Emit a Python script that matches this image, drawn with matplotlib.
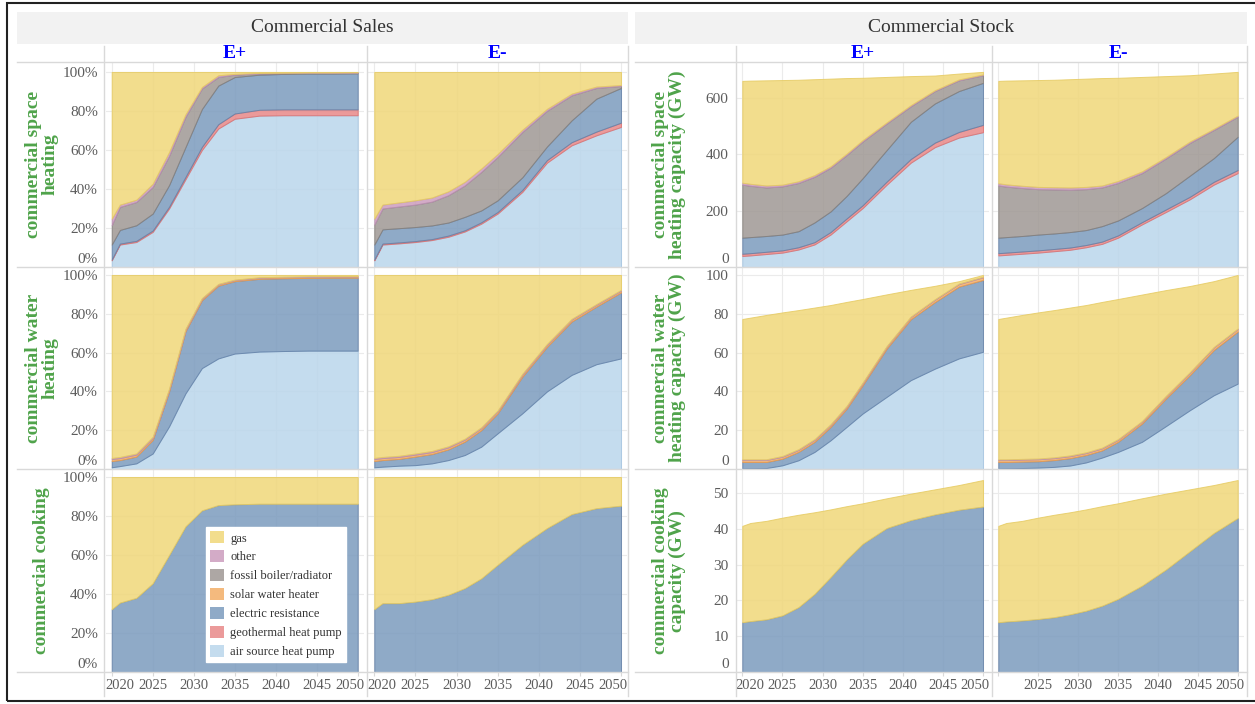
import matplotlib
matplotlib.use("Agg")
import matplotlib.pyplot as plt
from matplotlib.lines import Line2D
from matplotlib.patches import Patch, Rectangle
from matplotlib.transforms import ScaledTranslation

W, H = 1255, 704
DPI = 100

YEARS = [2020, 2021, 2023, 2025, 2027, 2029, 2031, 2033, 2035, 2038, 2041, 2044, 2047, 2050]

ORDER = [
    "air source heat pump",
    "geothermal heat pump",
    "electric resistance",
    "solar water heater",
    "fossil boiler/radiator",
    "other",
    "gas",
]
COLORS = {
    "gas": "#f0d779",
    "other": "#cc9cbe",
    "fossil boiler/radiator": "#9f9894",
    "solar water heater": "#f3ae67",
    "electric resistance": "#7b9bbe",
    "geothermal heat pump": "#e88888",
    "air source heat pump": "#bad6eb",
}
EDGES = {
    "gas": "#e6cb62",
    "other": "#b98fb0",
    "fossil boiler/radiator": "#85807c",
    "solar water heater": "#eb9c50",
    "electric resistance": "#6582a8",
    "geothermal heat pump": "#dc7272",
    "air source heat pump": "#a6c6e2",
}
ALPHA = 0.85

# ---- sales shares (%) ----
sales_space_ep = {
    "air source heat pump": [3.4, 11.5, 12.8, 18.0, 30.0, 45.0, 60.0, 71.0, 76.0, 77.6, 77.8, 77.8, 77.8, 77.8],
    "geothermal heat pump": [0.4, 0.5, 0.6, 0.7, 0.9, 1.2, 1.6, 2.2, 2.7, 3.0, 3.0, 3.0, 3.0, 3.0],
    "electric resistance": [7.7, 7.0, 8.0, 8.7, 11.1, 15.3, 19.4, 19.8, 18.7, 18.0, 18.2, 18.4, 18.4, 18.5],
    "fossil boiler/radiator": [9.9, 11.8, 11.9, 13.6, 15.0, 15.5, 10.5, 4.4, 1.2, 0.6, 0.4, 0.3, 0.3, 0.3],
    "other": [3.4, 1.2, 1.2, 1.7, 2.0, 1.3, 0.8, 0.9, 0.4, 0.3, 0.2, 0.2, 0.2, 0.2],
    "gas": [75.2, 68.0, 65.5, 57.3, 41.0, 21.7, 7.7, 1.7, 1.0, 0.5, 0.4, 0.3, 0.3, 0.2],
}
sales_space_em = {
    "air source heat pump": [3.4, 11.5, 12.1, 12.8, 13.8, 15.5, 18.2, 22.2, 27.4, 38.5, 53.5, 62.4, 67.5, 71.8],
    "geothermal heat pump": [0.4, 0.5, 0.5, 0.5, 0.5, 0.6, 0.6, 0.7, 0.8, 1.0, 1.3, 1.6, 1.9, 2.2],
    "electric resistance": [7.7, 7.3, 7.3, 7.2, 7.0, 6.7, 6.9, 6.1, 6.0, 6.5, 7.0, 11.2, 16.9, 17.8],
    "fossil boiler/radiator": [10.2, 10.7, 11.1, 11.5, 12.2, 14.0, 16.1, 19.7, 22.2, 23.2, 18.3, 12.8, 5.5, 1.0],
    "other": [3.1, 2.0, 2.1, 2.2, 2.1, 2.0, 1.9, 1.8, 1.6, 1.2, 1.0, 0.9, 0.7, 0.5],
    "gas": [75.2, 68.0, 66.9, 65.8, 64.4, 61.2, 56.3, 49.5, 42.0, 29.6, 18.9, 11.1, 7.5, 6.7],
}
sales_water_ep = {
    "air source heat pump": [0.9, 1.5, 2.9, 8.0, 22.0, 39.0, 52.0, 57.0, 59.5, 60.5, 60.8, 61.0, 61.0, 61.0],
    "electric resistance": [3.2, 3.1, 3.5, 7.0, 18.0, 32.0, 35.0, 37.5, 37.3, 37.5, 37.5, 37.5, 37.6, 37.6],
    "solar water heater": [1.0, 1.0, 1.0, 1.0, 1.0, 0.9, 0.8, 0.7, 0.6, 0.6, 0.6, 0.6, 0.6, 0.6],
    "other": [0.6, 0.6, 0.6, 0.6, 0.5, 0.4, 0.3, 0.2, 0.2, 0.2, 0.2, 0.2, 0.2, 0.2],
    "gas": [94.3, 93.8, 92.0, 83.4, 58.5, 27.7, 11.9, 4.6, 2.4, 1.2, 0.9, 0.7, 0.6, 0.6],
}
sales_water_em = {
    "air source heat pump": [0.9, 1.2, 1.7, 2.0, 2.9, 4.6, 7.2, 11.5, 18.4, 28.7, 40.0, 48.5, 54.0, 57.0],
    "electric resistance": [3.2, 3.4, 3.5, 4.4, 4.8, 5.5, 6.9, 8.5, 10.3, 18.9, 23.0, 27.5, 29.7, 34.0],
    "solar water heater": [1.0, 1.0, 1.0, 1.0, 1.0, 1.0, 1.0, 1.0, 1.0, 1.0, 1.0, 1.0, 0.9, 0.9],
    "other": [0.6, 0.6, 0.6, 0.6, 0.6, 0.6, 0.5, 0.5, 0.5, 0.5, 0.5, 0.4, 0.4, 0.4],
    "gas": [94.3, 93.8, 93.2, 92.0, 90.7, 88.3, 84.4, 78.5, 69.8, 50.9, 35.5, 22.6, 15.0, 7.7],
}
sales_cook_ep = {
    "electric resistance": [32.2, 35.6, 38.0, 45.5, 60.0, 74.7, 82.9, 85.6, 86.0, 86.3, 86.3, 86.3, 86.3, 86.3],
    "gas": [67.8, 64.4, 62.0, 54.5, 40.0, 25.3, 17.1, 14.4, 14.0, 13.7, 13.7, 13.7, 13.7, 13.7],
}
sales_cook_em = {
    "electric resistance": [32.2, 35.3, 35.3, 36.1, 37.3, 39.6, 43.0, 48.0, 55.0, 65.2, 73.8, 81.0, 84.0, 85.3],
    "gas": [67.8, 64.7, 64.7, 63.9, 62.7, 60.4, 57.0, 52.0, 45.0, 34.8, 26.2, 19.0, 16.0, 14.7],
}

# ---- stock capacity (GW) ----
stock_space_ep = {
    "air source heat pump": [39, 41, 46, 51, 62, 80, 115, 162, 209, 292, 370, 425, 459, 478],
    "geothermal heat pump": [8, 8, 8, 8, 8, 8, 9, 10, 10, 11, 13, 16, 20, 26],
    "electric resistance": [57, 57, 56, 56, 57, 70, 73, 80, 96, 112, 132, 139, 145, 149],
    "fossil boiler/radiator": [188, 182, 172, 171, 171, 162, 155, 145, 130, 94, 55, 44, 38, 27],
    "other": [7, 7, 7, 6, 6, 6, 5, 5, 5, 4, 4, 3, 3, 3],
    "gas": [361, 366, 373, 371, 360, 340, 311, 268, 221, 161, 103, 52, 21, 9],
}
stock_space_em = {
    "air source heat pump": [41, 43, 47, 51, 56, 61, 70, 82, 104, 151, 195, 240, 292, 333],
    "geothermal heat pump": [8, 8, 8, 8, 8, 8, 8, 8, 8, 8, 9, 9, 10, 11],
    "electric resistance": [55, 55, 55, 56, 55, 55, 53, 55, 53, 50, 58, 75, 84, 118],
    "fossil boiler/radiator": [185, 179, 170, 161, 156, 150, 145, 137, 133, 124, 123, 116, 100, 71],
    "other": [8, 8, 8, 8, 8, 8, 8, 7, 7, 6, 5, 5, 4, 4],
    "gas": [363, 368, 374, 379, 381, 384, 384, 381, 366, 335, 287, 235, 196, 155],
}
stock_water_ep = {
    "air source heat pump": [0.2, 0.3, 0.5, 1.9, 4.5, 8.8, 14.8, 21.7, 28.6, 37.2, 45.8, 51.7, 57.0, 60.4],
    "electric resistance": [3.4, 3.3, 3.1, 3.4, 4.3, 5.2, 6.9, 9.4, 14.6, 24.9, 31.4, 34.3, 37.0, 37.0],
    "solar water heater": [1.0, 1.0, 1.0, 1.0, 1.0, 1.0, 1.0, 1.0, 1.0, 1.0, 1.1, 1.2, 1.3, 1.4],
    "other": [0.4, 0.4, 0.4, 0.4, 0.4, 0.4, 0.4, 0.4, 0.4, 0.3, 0.3, 0.3, 0.3, 0.3],
    "gas": [72.3, 73.0, 74.4, 74.0, 71.7, 67.8, 61.4, 53.6, 43.0, 26.6, 13.7, 6.9, 1.2, 0.9],
}
stock_water_em = {
    "air source heat pump": [0.2, 0.3, 0.5, 0.7, 1.1, 1.8, 3.4, 5.9, 8.8, 14.0, 22.1, 30.3, 38.0, 44.0],
    "electric resistance": [3.4, 3.3, 3.3, 3.3, 3.5, 3.8, 3.8, 3.7, 5.2, 9.4, 14.2, 18.1, 23.3, 26.8],
    "solar water heater": [1.0, 1.0, 1.0, 1.0, 1.0, 1.0, 1.0, 1.0, 1.0, 1.0, 1.1, 1.2, 1.3, 1.3],
    "other": [0.4, 0.4, 0.4, 0.4, 0.4, 0.4, 0.4, 0.4, 0.4, 0.3, 0.3, 0.3, 0.3, 0.3],
    "gas": [72.3, 73.0, 74.2, 75.3, 75.9, 76.2, 75.9, 75.1, 72.2, 65.2, 54.5, 44.4, 33.9, 27.6],
}
stock_cook_ep = {
    "electric resistance": [13.9, 14.2, 14.7, 15.8, 18.1, 21.8, 26.5, 31.4, 35.8, 40.2, 42.4, 44.0, 45.3, 46.2],
    "gas": [26.9, 27.4, 27.5, 27.3, 25.8, 22.8, 18.9, 14.9, 11.3, 8.3, 7.4, 7.0, 6.9, 7.4],
}
stock_cook_em = {
    "electric resistance": [13.9, 14.1, 14.4, 14.8, 15.3, 16.1, 17.1, 18.5, 20.4, 24.1, 28.6, 33.7, 38.8, 43.0],
    "gas": [26.9, 27.5, 27.8, 28.3, 28.6, 28.5, 28.3, 27.8, 26.7, 24.4, 21.2, 17.3, 13.4, 10.6],
}

PANELS = [
    [sales_space_ep, sales_space_em, stock_space_ep, stock_space_em],
    [sales_water_ep, sales_water_em, stock_water_ep, stock_water_em],
    [sales_cook_ep, sales_cook_em, stock_cook_ep, stock_cook_em],
]
SALES_LABELS = ["commercial space\nheating", "commercial water\nheating", "commercial cooking"]
STOCK_LABELS = [
    "commercial space\nheating capacity (GW)",
    "commercial water\nheating capacity (GW)",
    "commercial cooking\ncapacity (GW)",
]
COL_HEADERS = ["E+", "E-", "E+", "E-"]
GROUP_TITLES = ["Commercial Sales", "Commercial Stock"]

SALES_TICKS = [0, 20, 40, 60, 80, 100]
STOCK_TICKS = [[0, 200, 400, 600], [0, 20, 40, 60, 80, 100], [0, 10, 20, 30, 40, 50]]
XTICKS = [2020, 2025, 2030, 2035, 2040, 2045, 2050]

# layout, in pixels of the 1255x704 picture
COL_DATA_PX = [(111.7, 357.7), (374.3, 621.0), (742.3, 983.0), (998.3, 1237.7)]
ROW_PX = [(62, 267), (267, 469), (470, 672)]
YTOP = [(105.1, 727), (104.1, 104.1), (103.6, 56.4)]
PAD = 6

GRID = "#ebebeb"
RULE = "#d9d9d9"
TICK_TXT = "#5c5c5c"
GREEN = "#4fa34a"

plt.rcParams["font.family"] = ["Liberation Serif", "DejaVu Serif"]


def fx(x):
    return x / W


def fy(y):
    return 1 - y / H


def nudge(label, dx, dy, fig):
    label.set_transform(
        label.get_transform() + ScaledTranslation(dx / DPI, dy / DPI, fig.dpi_scale_trans)
    )


fig = plt.figure(figsize=(W / DPI, H / DPI), dpi=DPI)

col_centers = []
for r, (top, bottom) in enumerate(ROW_PX):
    for c, (px0, px1) in enumerate(COL_DATA_PX):
        ppy = (px1 - px0) / 30.0
        left, right = px0 - PAD, px1 + PAD
        if r == 0:
            col_centers.append((left + right) / 2)
        ax = fig.add_axes([fx(left), fy(bottom), (right - left) / W, (bottom - top) / H])
        data = PANELS[r][c]
        layers = [t for t in ORDER if t in data]
        polys = ax.stackplot(
            YEARS,
            *[data[t] for t in layers],
            colors=[COLORS[t] for t in layers],
            alpha=ALPHA,
            linewidth=0.7,
        )
        for poly, t in zip(polys, layers):
            poly.set_edgecolor(EDGES[t])

        ax.set_xlim(2020 - PAD / ppy, 2050 + PAD / ppy)
        ax.set_ylim(0, YTOP[r][0 if c < 2 else 1])

        ticks = SALES_TICKS if c < 2 else STOCK_TICKS[r]
        ax.set_yticks(ticks)
        ax.tick_params(axis="y", length=0, pad=5.5, labelsize=11, labelcolor=TICK_TXT)
        if c in (0, 2):
            fmt = "{}%" if c == 0 else "{}"
            ax.set_yticklabels([fmt.format(t) for t in ticks])
        else:
            ax.tick_params(axis="y", labelleft=False)

        ax.set_xticks(XTICKS)
        if r == 2:
            ax.tick_params(axis="x", length=3, width=0.8, color=RULE, pad=2,
                           labelsize=10.5, labelcolor=TICK_TXT)
            xlabels = [str(y) for y in XTICKS]
            if c == 3:
                xlabels[0] = ""
            ax.set_xticklabels(xlabels)
        else:
            ax.tick_params(axis="x", length=0, labelbottom=False)

        ax.grid(True, color=GRID, linewidth=0.8)
        ax.set_axisbelow(True)
        for s in ax.spines.values():
            s.set_visible(False)

        # nudge edge labels inward, after all tick_params calls
        if c in (0, 2):
            nudge(ax.get_yticklabels()[0], 0, 9, fig)
        if r == 2:
            xl = ax.get_xticklabels()
            nudge(xl[0], 8, 0, fig)
            nudge(xl[-1], -8, 0, fig)

# group strips
for (x0, x1), title in zip([(17, 628), (635, 1247)], GROUP_TITLES):
    fig.add_artist(Rectangle((fx(x0), fy(44)), (x1 - x0) / W, 32 / H,
                             transform=fig.transFigure, facecolor="#f2f2f2", edgecolor="none"))
    fig.text(fx((x0 + x1) / 2), fy(28), title, ha="center", va="center",
             fontsize=14, color="#333333")

# facet rules
for x0, x1 in [(17, 628), (635, 1247)]:
    for y in (62, 267, 469, 672):
        fig.add_artist(Line2D([fx(x0), fx(x1)], [fy(y), fy(y)], transform=fig.transFigure,
                              color=RULE, linewidth=1.0))
for x in (103.6, 366.5, 628, 735.6, 991.5, 1247):
    fig.add_artist(Line2D([fx(x), fx(x)], [fy(46), fy(696)], transform=fig.transFigure,
                          color=RULE, linewidth=1.0))

# column headers
for cx, head in zip(col_centers, COL_HEADERS):
    fig.text(fx(cx), fy(54), head, ha="center", va="center", fontsize=14,
             fontweight="bold", color="#0000ff")

# row labels
for (top, bottom), s_lab, k_lab in zip(ROW_PX, SALES_LABELS, STOCK_LABELS):
    cy = (top + bottom) / 2
    fig.text(fx(42), fy(cy), s_lab, rotation=90, ha="center", va="center", fontsize=14,
             fontweight="bold", color=GREEN, linespacing=0.95, multialignment="center")
    fig.text(fx(669), fy(cy), k_lab, rotation=90, ha="center", va="center", fontsize=14,
             fontweight="bold", color=GREEN, linespacing=0.95, multialignment="center")

# legend
legend_order = list(reversed(ORDER))
handles = [Patch(facecolor=COLORS[t], alpha=ALPHA, edgecolor="none") for t in legend_order]
fig.legend(handles, legend_order, loc="upper left", bbox_to_anchor=(fx(206), fy(527)),
           bbox_transform=fig.transFigure, fontsize=9, frameon=True, fancybox=False,
           framealpha=1, facecolor="white", edgecolor="white", handlelength=1.1,
           handleheight=1.1, handletextpad=0.5, labelspacing=0.45, borderpad=0.35,
           borderaxespad=0, labelcolor="#333333")

# outer frame
fig.add_artist(Rectangle((fx(7), fy(701)), (1265 - 7) / W, (701 - 3) / H,
                         transform=fig.transFigure, fill=False, edgecolor="#222222",
                         linewidth=1.5))

fig.savefig("out.png", dpi=DPI)
plt.close(fig)
